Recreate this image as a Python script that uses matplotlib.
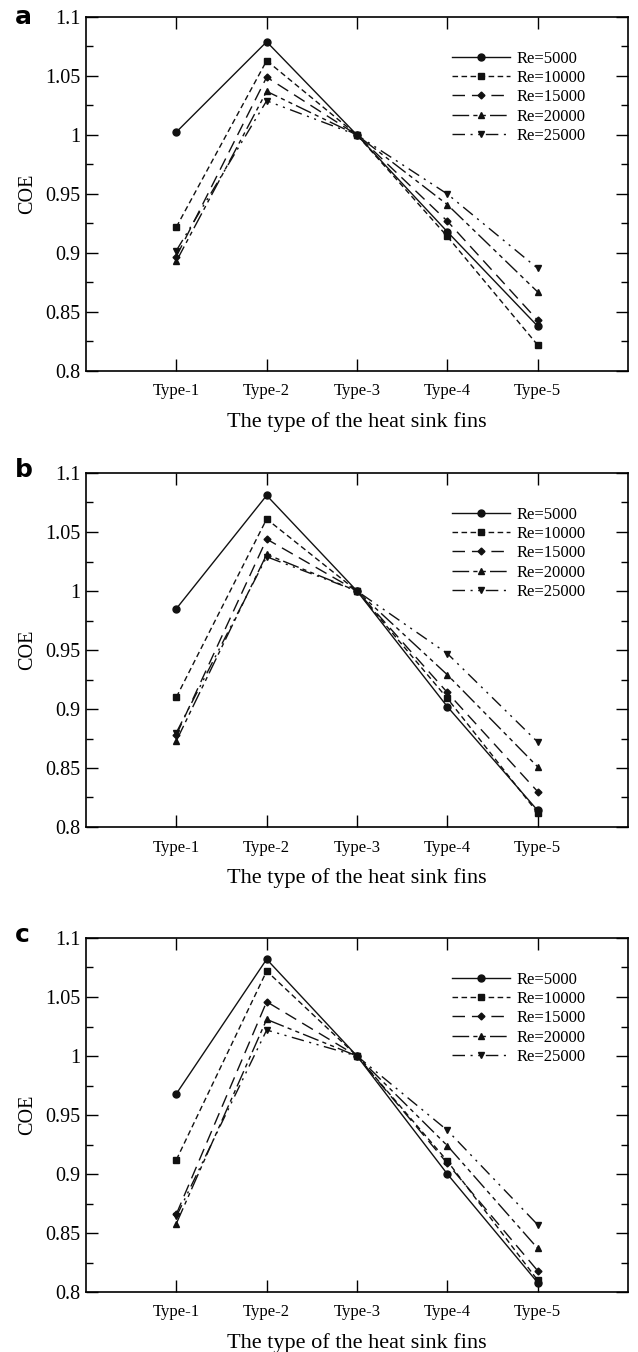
import matplotlib
matplotlib.use("Agg")
import matplotlib.pyplot as plt
from matplotlib.ticker import MultipleLocator, FormatStrFormatter

types = ["Type-1", "Type-2", "Type-3", "Type-4", "Type-5"]
labels = ["Re=5000", "Re=10000", "Re=15000", "Re=20000", "Re=25000"]

# COE values, rows = Re, columns = fin type
coe_a = [
    [1.0025, 1.079, 1.0, 0.918, 0.838],
    [0.922, 1.063, 1.0, 0.914, 0.822],
    [0.897, 1.049, 1.0, 0.927, 0.843],
    [0.893, 1.037, 1.0, 0.941, 0.867],
    [0.902, 1.029, 1.0, 0.950, 0.887],
]
coe_b = [
    [0.985, 1.081, 1.0, 0.902, 0.814],
    [0.910, 1.061, 1.0, 0.909, 0.812],
    [0.878, 1.044, 1.0, 0.914, 0.830],
    [0.873, 1.031, 1.0, 0.929, 0.851],
    [0.880, 1.029, 1.0, 0.947, 0.872],
]
coe_c = [
    [0.968, 1.082, 1.0, 0.900, 0.808],
    [0.912, 1.072, 1.0, 0.911, 0.810],
    [0.866, 1.046, 1.0, 0.909, 0.818],
    [0.858, 1.031, 1.0, 0.924, 0.837],
    [0.864, 1.022, 1.0, 0.937, 0.857],
]

styles = [
    ("-", "o", 5),
    ((0, (4, 2.5)), "s", 5),
    ((0, (9, 5)), "D", 3.5),
    ((0, (12, 3, 3, 3, 3, 3)), "^", 5),
    ((0, (9, 4, 1.5, 4, 1.5, 4)), "v", 5),
]

plt.rcParams["font.family"] = ["Liberation Serif", "DejaVu Serif"]

fig = plt.figure(figsize=(6.38, 13.52), dpi=100)
H = 1352.0
W = 638.0
left = 86 / W
width = (628 - 86) / W
tops = [17, 473, 938]
h = 354

x = list(range(1, 6))
for data, top, letter in zip([coe_a, coe_b, coe_c], tops, ["a", "b", "c"]):
    ax = fig.add_axes([left, 1 - (top + h) / H, width, h / H])
    for vals, lab, (ls, mk, ms) in zip(data, labels, styles):
        ax.plot(x, vals, color="#111111", linestyle=ls, linewidth=1.0,
                marker=mk, markersize=ms, label=lab)
    ax.set_xlim(0, 6)
    ax.set_ylim(0.8, 1.1)
    ax.set_xticks(x)
    ax.set_xticklabels(types, fontsize=12)
    ax.yaxis.set_major_locator(MultipleLocator(0.05))
    ax.yaxis.set_minor_locator(MultipleLocator(0.025))
    ax.yaxis.set_major_formatter(FormatStrFormatter("%g"))
    ax.tick_params(axis="both", which="major", direction="in", length=8.5,
                   width=1.0, top=True, right=True)
    ax.tick_params(axis="y", which="minor", direction="in", length=5,
                   width=1.0, right=True)
    ax.tick_params(axis="y", labelsize=14.5, pad=4)
    ax.tick_params(axis="x", pad=9)
    for s in ax.spines.values():
        s.set_linewidth(1.2)
    ax.set_ylabel("COE", fontsize=14.5, labelpad=6)
    ax.set_xlabel("The type of the heat sink fins", fontsize=16, labelpad=9)
    ax.legend(loc="upper left", bbox_to_anchor=(0.675, 0.905), frameon=False,
              fontsize=12, borderpad=0, borderaxespad=0, handlelength=3.5,
              handletextpad=0.4, labelspacing=0.2)
    fig.text(15 / W, 1 - max(top + 4, 24) / H, letter, fontsize=18,
             fontweight="bold", family="DejaVu Sans", va="baseline")

fig.savefig("out.png", dpi=100)
